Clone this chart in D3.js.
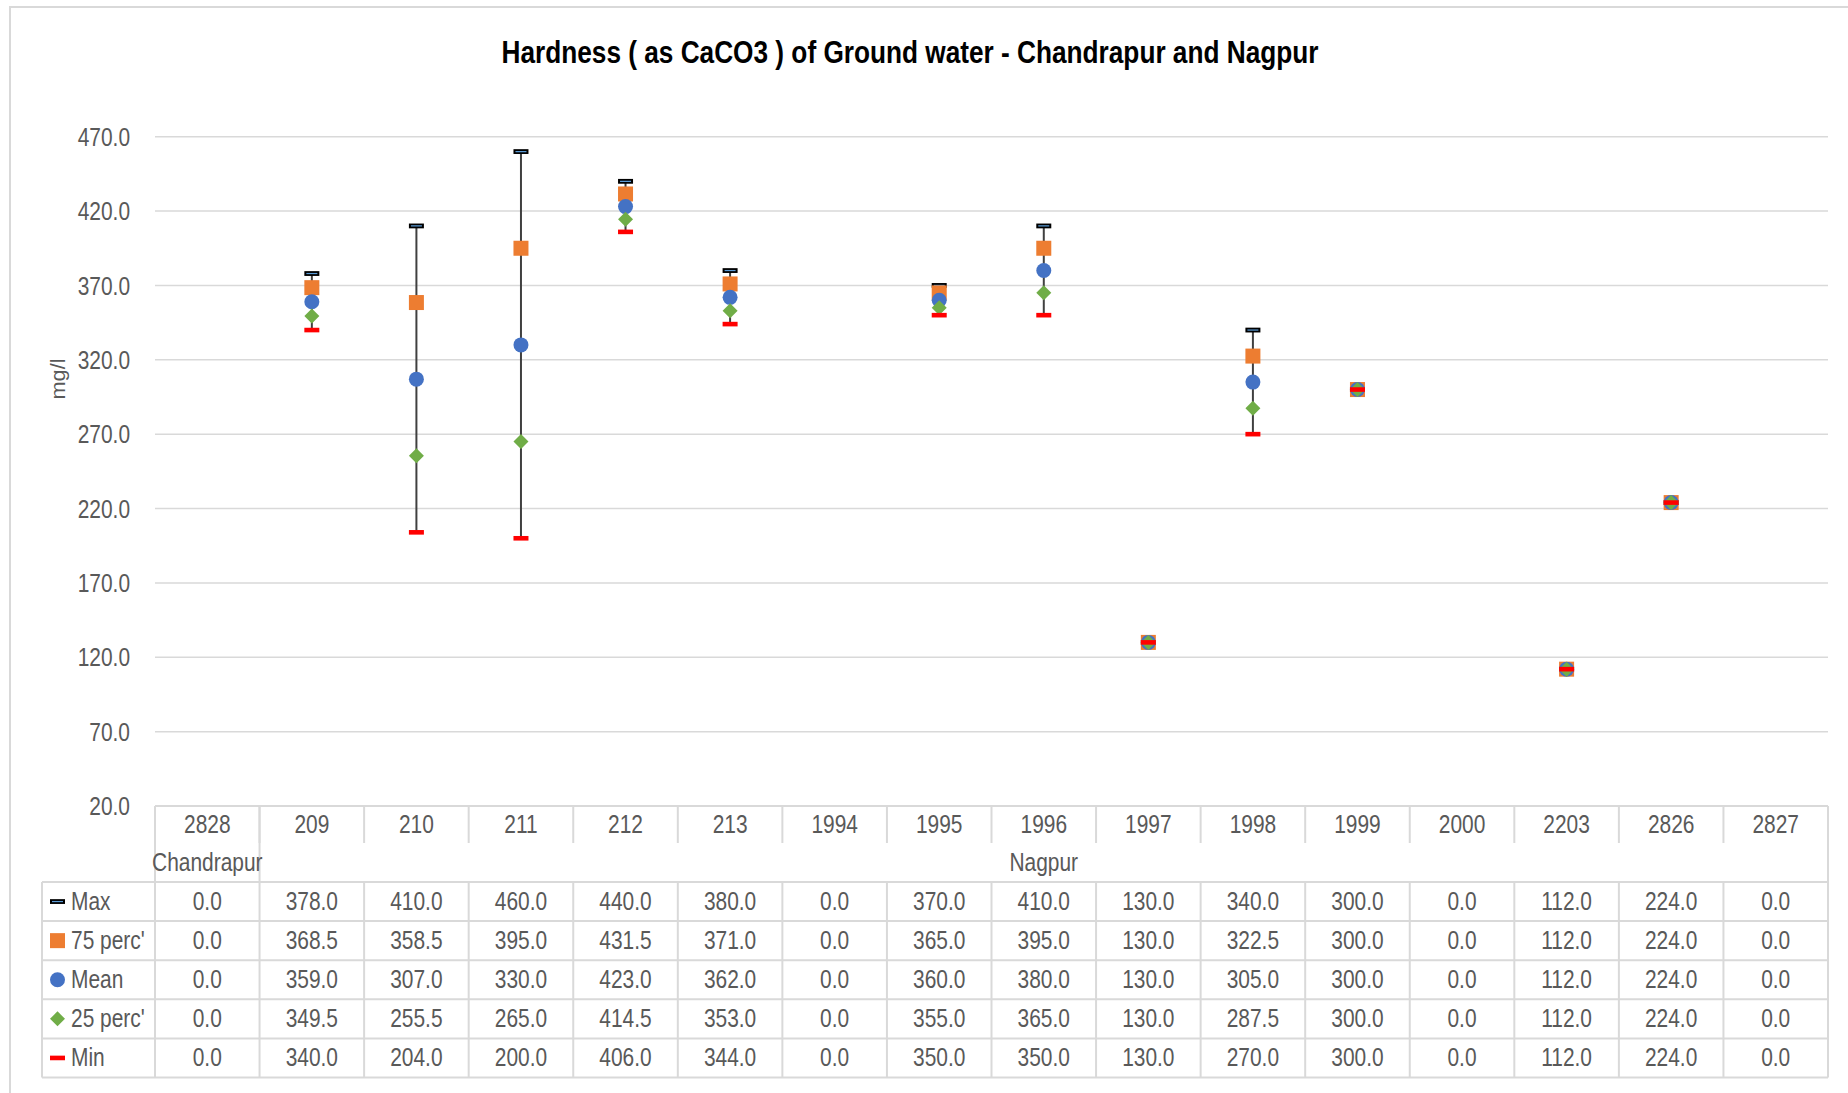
<!DOCTYPE html>
<html>
<head>
<meta charset="utf-8">
<script src="https://cdn.jsdelivr.net/npm/d3@7"></script>
<style>
  html, body { margin: 0; padding: 0; background: #fff; }
  svg { display: block; }
</style>
</head>
<body>
<svg id="chart" width="1848" height="1093"></svg>
<script>
// ---------------- DATA ----------------
const categories = ["2828","209","210","211","212","213","1994","1995","1996","1997","1998","1999","2000","2203","2826","2827"];
const groups = [
  { name: "Chandrapur", members: ["2828"] },
  { name: "Nagpur", members: ["209","210","211","212","213","1994","1995","1996","1997","1998","1999","2000","2203","2826","2827"] }
];
const seriesNames = ["Max", "75 perc'", "Mean", "25 perc'", "Min"];
const maxValues  = [0.0, 378.0, 410.0, 460.0, 440.0, 380.0, 0.0, 370.0, 410.0, 130.0, 340.0, 300.0, 0.0, 112.0, 224.0, 0.0];
const p75Values  = [0.0, 368.5, 358.5, 395.0, 431.5, 371.0, 0.0, 365.0, 395.0, 130.0, 322.5, 300.0, 0.0, 112.0, 224.0, 0.0];
const meanValues = [0.0, 359.0, 307.0, 330.0, 423.0, 362.0, 0.0, 360.0, 380.0, 130.0, 305.0, 300.0, 0.0, 112.0, 224.0, 0.0];
const p25Values  = [0.0, 349.5, 255.5, 265.0, 414.5, 353.0, 0.0, 355.0, 365.0, 130.0, 287.5, 300.0, 0.0, 112.0, 224.0, 0.0];
const minValues  = [0.0, 340.0, 204.0, 200.0, 406.0, 344.0, 0.0, 350.0, 350.0, 130.0, 270.0, 300.0, 0.0, 112.0, 224.0, 0.0];
const yTicks = [20, 70, 120, 170, 220, 270, 320, 370, 420, 470];
const titleText = "Hardness ( as CaCO3 ) of Ground water - Chandrapur and Nagpur";
const yAxisTitle = "mg/l";

const seriesValues = [maxValues, p75Values, meanValues, p25Values, minValues];
const seriesTypes = ["maxdash", "square", "circle", "diamond", "mindash"];

// ---------------- LAYOUT ----------------
const plotLeft = 155, plotRight = 1828, plotTop = 136.7, plotBottom = 806;
const headerBottom = 843, groupRowBottom = 882;
const rowH = 39.1;
const legendLeft = 42;
const TEXT = "#595959", GRID = "#d9d9d9";
const NARROW = "'Liberation Sans Narrow','Arial Narrow',sans-serif";
const fs = 25.5;

const svg = d3.select("#chart");

// outer border
svg.append("rect").attr("x", 10).attr("y", 7).attr("width", 1900).attr("height", 1200)
  .attr("fill", "none").attr("stroke", GRID).attr("stroke-width", 2);

const x = d3.scaleBand().domain(categories).range([plotLeft, plotRight]).padding(0);
const y = d3.scaleLinear().domain([20, 470]).range([plotBottom, plotTop]);

// title
svg.append("text").attr("class", "title")
  .attr("x", 910).attr("y", 63).attr("text-anchor", "middle")
  .attr("font-family", "'Liberation Sans',Arial,sans-serif").attr("font-weight", "bold")
  .attr("font-size", 31).attr("fill", "#000")
  .attr("textLength", 817).attr("lengthAdjust", "spacingAndGlyphs")
  .text(titleText);

// gridlines
svg.append("g").selectAll("line").data(yTicks.filter(t => t > 20)).join("line")
  .attr("x1", plotLeft).attr("x2", plotRight)
  .attr("y1", d => y(d)).attr("y2", d => y(d))
  .attr("stroke", GRID).attr("stroke-width", 1.5);

// y axis labels via d3 axis
const yAxis = d3.axisLeft(y).tickValues(yTicks).tickFormat(d3.format(".1f")).tickSize(0).tickPadding(0);
const yg = svg.append("g").attr("transform", `translate(130,0)`).call(yAxis);
yg.select(".domain").remove();
yg.selectAll("text").attr("font-family", NARROW).attr("font-size", fs).attr("fill", TEXT)
  .attr("class", "narrow").attr("dy", "0.34em");

// y axis title
svg.append("text").attr("transform", "translate(65,379) rotate(-90)")
  .attr("text-anchor", "middle").attr("font-family", "'Liberation Sans',Arial,sans-serif")
  .attr("font-size", 20).attr("fill", TEXT)
  .attr("textLength", 41).attr("lengthAdjust", "spacingAndGlyphs")
  .text(yAxisTitle);

// ---------------- TABLE ----------------
const tg = svg.append("g");
const lineAttrs = s => s.attr("stroke", GRID).attr("stroke-width", 2);
tg.append("line").attr("x1", plotLeft).attr("x2", plotRight).attr("y1", plotBottom).attr("y2", plotBottom).call(lineAttrs);
const bounds = categories.map(c => x(c)).concat([plotRight]);
tg.selectAll("line.cdiv").data(bounds).join("line").attr("class", "cdiv")
  .attr("x1", d => d).attr("x2", d => d).attr("y1", plotBottom).attr("y2", headerBottom).call(lineAttrs);
const groupBounds = [plotLeft].concat(groups.map(g => x(g.members[g.members.length - 1]) + x.bandwidth()));
tg.selectAll("line.gdiv").data(groupBounds).join("line").attr("class", "gdiv")
  .attr("x1", d => d).attr("x2", d => d).attr("y1", plotBottom).attr("y2", groupRowBottom).call(lineAttrs);
tg.selectAll("text.cat").data(categories).join("text").attr("class", "cat narrow")
  .attr("x", d => x(d) + x.bandwidth() / 2).attr("y", 833)
  .attr("text-anchor", "middle").attr("font-family", NARROW).attr("font-size", fs).attr("fill", TEXT)
  .text(d => d);
tg.selectAll("text.grp").data(groups).join("text").attr("class", "grp narrow")
  .attr("x", g => {
    const a = x(g.members[0]), b = x(g.members[g.members.length - 1]) + x.bandwidth();
    return (a + b) / 2;
  })
  .attr("y", 871).attr("text-anchor", "middle").attr("font-family", NARROW).attr("font-size", fs).attr("fill", TEXT)
  .text(g => g.name);

const tableTop = groupRowBottom;
const tableBottom = tableTop + rowH * seriesNames.length;
for (let i = 0; i <= seriesNames.length; i++) {
  tg.append("line").attr("x1", legendLeft).attr("x2", plotRight)
    .attr("y1", tableTop + i * rowH).attr("y2", tableTop + i * rowH).call(lineAttrs);
}
[legendLeft].concat(bounds).forEach(bx => {
  tg.append("line").attr("x1", bx).attr("x2", bx).attr("y1", tableTop).attr("y2", tableBottom).call(lineAttrs);
});
const fmt = d3.format(".1f");
seriesNames.forEach((name, si) => {
  const cy = tableTop + rowH * (si + 0.5);
  tg.selectAll(null).data(seriesValues[si]).join("text").attr("class", "narrow")
    .attr("x", (d, i) => x(categories[i]) + x.bandwidth() / 2).attr("y", cy + 8.5)
    .attr("text-anchor", "middle").attr("font-family", NARROW).attr("font-size", fs).attr("fill", TEXT)
    .text(d => fmt(d));
  tg.append("text").attr("class", "narrow").attr("x", 71).attr("y", cy + 8.5)
    .attr("font-family", NARROW).attr("font-size", fs).attr("fill", TEXT).text(name);
  drawMarker(tg, seriesTypes[si], 57.5, cy);
});

// ---------------- MARKS ----------------
svg.append("defs").append("clipPath").attr("id", "plotclip")
  .append("rect").attr("x", plotLeft).attr("y", plotTop - 20).attr("width", plotRight - plotLeft).attr("height", plotBottom - plotTop + 20);
const mg = svg.append("g").attr("clip-path", "url(#plotclip)");

mg.selectAll("line.err").data(categories).join("line").attr("class", "err")
  .attr("x1", d => x(d) + x.bandwidth() / 2).attr("x2", d => x(d) + x.bandwidth() / 2)
  .attr("y1", (d, i) => y(maxValues[i])).attr("y2", (d, i) => y(minValues[i]))
  .attr("stroke", "#404040").attr("stroke-width", 2);

seriesValues.forEach((vals, si) => {
  vals.forEach((v, i) => {
    drawMarker(mg, seriesTypes[si], x(categories[i]) + x.bandwidth() / 2, y(v));
  });
});

function drawMarker(g, type, cx, cy) {
  if (type === "square") {
    g.append("rect").attr("x", cx - 7.5).attr("y", cy - 7.5).attr("width", 15).attr("height", 15).attr("fill", "#ED7D31");
  } else if (type === "circle") {
    g.append("circle").attr("cx", cx).attr("cy", cy).attr("r", 7.5).attr("fill", "#4472C4");
  } else if (type === "diamond") {
    g.append("path").attr("d", `M${cx},${cy - 7.5}L${cx + 7.5},${cy}L${cx},${cy + 7.5}L${cx - 7.5},${cy}Z`).attr("fill", "#70AD47");
  } else if (type === "maxdash") {
    g.append("rect").attr("x", cx - 7.5).attr("y", cy - 2.4).attr("width", 15).attr("height", 4.8).attr("fill", "#000");
    g.append("line").attr("x1", cx - 5.5).attr("x2", cx + 5.5).attr("y1", cy).attr("y2", cy)
      .attr("stroke", "#5B9BD5").attr("stroke-width", 1.2);
  } else if (type === "mindash") {
    g.append("rect").attr("x", cx - 7.5).attr("y", cy - 2.3).attr("width", 15).attr("height", 4.6).attr("fill", "#FF0000");
  }
}

// ---------------- NARROW FONT FALLBACK ----------------
(function () {
  const c = document.createElement("canvas").getContext("2d");
  const probe = "Hardness 0123456789 perc'";
  c.font = "30px 'Liberation Sans Narrow', monospace";
  const a = c.measureText(probe).width;
  c.font = "30px monospace";
  const b = c.measureText(probe).width;
  if (Math.abs(a - b) < 0.5) {
    svg.selectAll("text.narrow").each(function () {
      const t = d3.select(this);
      t.attr("font-family", "'Liberation Sans',Arial,sans-serif");
      const L = this.getComputedTextLength();
      t.attr("textLength", L * 0.82).attr("lengthAdjust", "spacingAndGlyphs");
    });
  }
})();
</script>
</body>
</html>
